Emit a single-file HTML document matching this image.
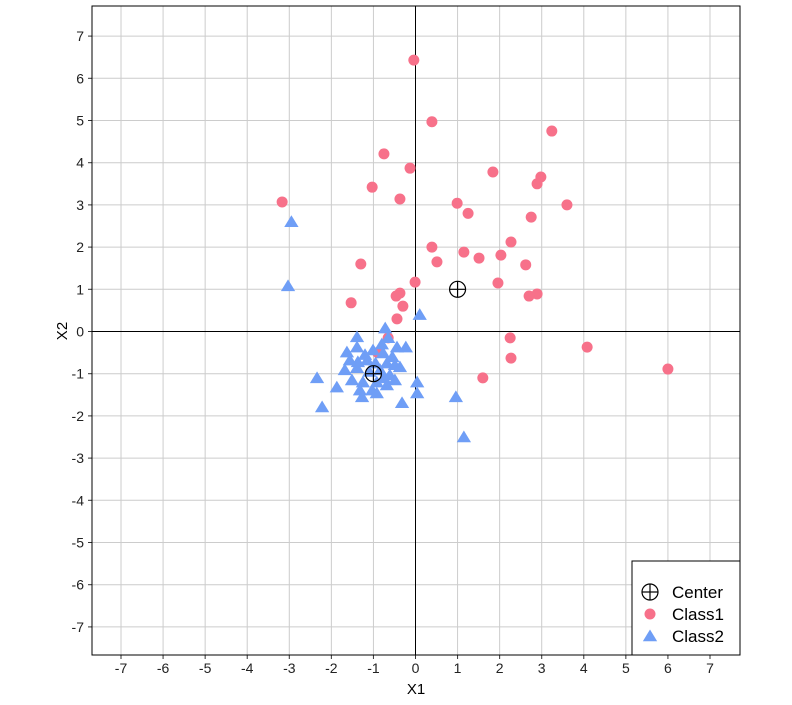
<!DOCTYPE html>
<html><head><meta charset="utf-8"><style>
html,body{margin:0;padding:0;background:#fff;}
svg{display:block;font-family:"Liberation Sans",Arial,sans-serif;}
</style></head><body>
<svg id="chart" width="792" height="705"></svg>
<script>
const class1X=[-0.04,0.39,3.24,-0.75,-0.13,1.84,2.98,2.89,-1.03,-3.17,-0.37,0.99,1.25,3.6,2.75,2.27,0.39,1.15,2.03,1.51,0.51,2.62,-1.3,1.96,-0.01,-0.37,-0.46,2.89,2.7,-1.53,-0.3,-0.44,2.25,4.08,2.27,6.0,1.6,-0.65,-0.9];
const class1Y=[6.43,4.97,4.75,4.21,3.87,3.78,3.66,3.5,3.42,3.07,3.14,3.04,2.8,3.0,2.71,2.12,2.0,1.88,1.81,1.74,1.65,1.58,1.6,1.15,1.17,0.91,0.84,0.89,0.84,0.68,0.6,0.3,-0.15,-0.37,-0.63,-0.89,-1.1,-0.15,-0.5];
const class2X=[-2.95,-3.03,-2.34,-2.22,0.96,1.15,0.1,-0.72,-1.39,-0.65,-0.44,-0.23,-1.39,-1.63,-1.01,-0.77,-1.56,-1.37,-1.15,-0.68,-0.49,-0.37,-1.68,-1.39,-0.84,-0.61,-0.49,-1.51,-1.25,-0.92,-0.68,-1.87,0.04,-1.32,-1.03,0.04,-1.27,-0.32,-0.92,-0.8,-1.1,-0.55,-0.75,-1.2,-0.95];
const class2Y=[2.6,1.08,-1.1,-1.79,-1.55,-2.5,0.4,0.08,-0.13,-0.15,-0.37,-0.37,-0.37,-0.49,-0.44,-0.51,-0.68,-0.72,-0.68,-0.75,-0.79,-0.84,-0.91,-0.86,-0.91,-1.03,-1.15,-1.15,-1.2,-1.2,-1.27,-1.32,-1.2,-1.39,-1.39,-1.46,-1.55,-1.69,-1.46,-0.3,-0.95,-0.6,-1.1,-0.55,-0.75];
const centerX=[1,-1];
const centerY=[1,-1];
const ticks=[-7,-6,-5,-4,-3,-2,-1,0,1,2,3,4,5,6,7];

const NS="http://www.w3.org/2000/svg";
const svg=document.getElementById('chart');
const L=92,R=740,T=6,B=655;
const sx=v=>415.5+v*42.07;
const sy=v=>331.5-v*42.2;
function mk(tag,attrs,parent){const e=document.createElementNS(NS,tag);for(const k in attrs)e.setAttribute(k,attrs[k]);(parent||svg).appendChild(e);return e;}

const grid=mk('g',{});


ticks.forEach(t=>{
  mk('line',{x1:sx(t),x2:sx(t),y1:T,y2:B,stroke:'#cccccc','stroke-width':1},grid);
  mk('line',{x1:L,x2:R,y1:sy(t),y2:sy(t),stroke:'#cccccc','stroke-width':1},grid);
});
const zx=mk('line',{x1:sx(0),x2:sx(0),y1:T,y2:B,stroke:'#000','stroke-width':1});


const zy=mk('line',{x1:L,x2:R,y1:sy(0),y2:sy(0),stroke:'#000','stroke-width':1});



const xa=mk('g',{});


const ya=mk('g',{});


ticks.forEach(t=>{
  mk('line',{x1:sx(t),x2:sx(t),y1:B,y2:B+4,stroke:'#333'},xa);
  const tx=mk('text',{x:sx(t),y:B+18,'text-anchor':'middle','font-size':14,fill:'#222'},xa);
  tx.textContent=t;
  
  
  mk('line',{x1:L-4,x2:L,y1:sy(t),y2:sy(t),stroke:'#333'},ya);
  const ty=mk('text',{x:L-8,y:sy(t)+5,'text-anchor':'end','font-size':14,fill:'#222'},ya);
  ty.textContent=t;
  
  
});
const xt=mk('text',{x:416,y:694,'text-anchor':'middle','font-size':15,fill:'#000'});
xt.textContent='X1';


const yt=mk('text',{x:67,y:331,'text-anchor':'middle','font-size':15,fill:'#000',transform:'rotate(-90 67 331)'});
yt.textContent='X2';



const tri=(cx,cy,s)=>`${cx},${cy-s} ${cx-s*1.1},${cy+s*0.8} ${cx+s*1.1},${cy+s*0.8}`;
const g1=mk('g',{});


class1X.forEach((x,i)=>{
  const c=mk('circle',{cx:sx(x),cy:sy(class1Y[i]),r:5.5,fill:'#f7718a'},g1);
  
  
});
const g2=mk('g',{});


class2X.forEach((x,i)=>{
  const p=mk('polygon',{points:tri(sx(x),sy(class2Y[i]),6.5),fill:'#6f9ef6'},g2);
  
  
});
function center(cx,cy,g){
  mk('circle',{cx,cy,r:8,fill:'none',stroke:'#000','stroke-width':1.2},g);
  mk('line',{x1:cx-8,x2:cx+8,y1:cy,y2:cy,stroke:'#000','stroke-width':1.2},g);
  mk('line',{x1:cx,x2:cx,y1:cy-8,y2:cy+8,stroke:'#000','stroke-width':1.2},g);
}
const gc=mk('g',{});


centerX.forEach((x,i)=>center(sx(x),sy(centerY[i]),gc));

const bd=mk('rect',{x:L,y:T,width:R-L,height:B-T,fill:'none',stroke:'#000','stroke-width':1});



const lg=mk('g',{});


mk('rect',{x:632,y:561,width:108,height:94,fill:'#fff',stroke:'#000','stroke-width':1},lg);
center(650,592,lg);
mk('circle',{cx:650,cy:614,r:5.5,fill:'#f7718a'},lg);
mk('polygon',{points:tri(650,636,6.5),fill:'#6f9ef6'},lg);
[['Center',598],['Class1',620],['Class2',642]].forEach(([t,y])=>{
  const e=mk('text',{x:672,y:y,'font-size':17,fill:'#000'},lg);
  e.textContent=t;
  
  
});
</script>
</body></html>
